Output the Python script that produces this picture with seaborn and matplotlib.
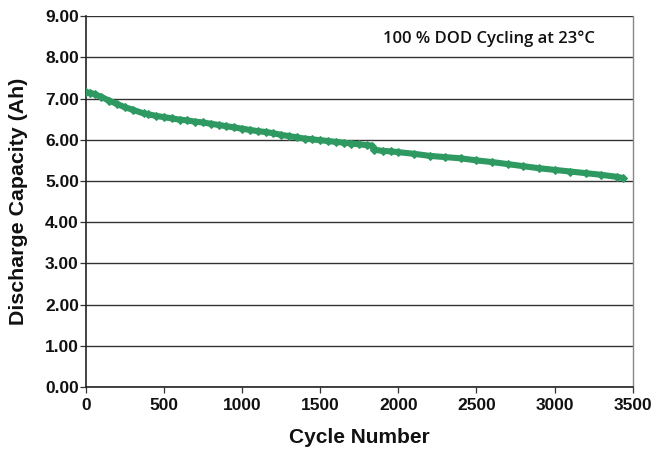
import matplotlib
matplotlib.use("Agg")
import matplotlib.pyplot as plt
import seaborn as sns
import pandas as pd

# Discharge capacity over cycle life
cycles = [0, 30, 60, 100, 150, 200, 250, 300, 370, 400, 450, 500, 550, 600,
          650, 700, 750, 800, 850, 900, 950, 1000, 1050, 1100, 1150, 1200,
          1250, 1300, 1350, 1400, 1450, 1500, 1550, 1600, 1650, 1700, 1750,
          1800, 1830, 1845, 1900, 1950, 2000, 2100, 2200, 2300, 2400, 2500,
          2600, 2700, 2800, 2900, 3000, 3100, 3200, 3300, 3400, 3440]
capacity = [7.15, 7.14, 7.10, 7.04, 6.95, 6.87, 6.79, 6.73, 6.64, 6.62, 6.58,
            6.55, 6.52, 6.49, 6.47, 6.44, 6.42, 6.39, 6.36, 6.33, 6.30, 6.27,
            6.24, 6.21, 6.19, 6.16, 6.12, 6.09, 6.06, 6.03, 6.01, 5.99, 5.97,
            5.95, 5.93, 5.91, 5.89, 5.87, 5.86, 5.76, 5.73, 5.72, 5.70, 5.66,
            5.61, 5.58, 5.55, 5.50, 5.46, 5.41, 5.36, 5.31, 5.27, 5.23, 5.19,
            5.15, 5.10, 5.07]
y_ticks = [0, 1, 2, 3, 4, 5, 6, 7, 8, 9]
x_ticks = [0, 500, 1000, 1500, 2000, 2500, 3000, 3500]
annotation = "100 % DOD Cycling at 23°C"

df = pd.DataFrame({"cycle": cycles, "capacity": capacity})

sns.set_style("white")
plt.rcParams["font.family"] = ["Liberation Sans", "DejaVu Sans"]

ink = "#111111"
fig = plt.figure(figsize=(6.55, 4.5), dpi=100)
ax = fig.add_axes([0.131, 0.14, 0.835, 0.824])

green = "#2e9a62"
sns.lineplot(data=df, x="cycle", y="capacity", ax=ax, color=green,
             linewidth=4.4, marker="D", markersize=4,
             markeredgecolor=green, markerfacecolor=green, zorder=3)

ax.set_xlim(0, 3500)
ax.set_ylim(0, 9)
ax.set_xticks(x_ticks)
ax.set_yticks(y_ticks)
ax.set_xticklabels([str(t) for t in x_ticks], fontsize=12.5,
                   fontweight="bold", color=ink)
ax.set_yticklabels([f"{t:.2f}" for t in y_ticks], fontsize=12.5,
                   fontweight="bold", color=ink)

ax.yaxis.grid(True, color="#333333", linewidth=1.0)
ax.xaxis.grid(False)
ax.set_axisbelow(True)

ax.tick_params(axis="y", which="major", direction="out", length=4,
               width=0.9, color="#333333", pad=1, left=True)
ax.tick_params(axis="x", which="major", direction="out", length=4,
               width=0.9, color="#333333", pad=4, bottom=True)

for side in ("left", "bottom"):
    ax.spines[side].set_color("#222222")
    ax.spines[side].set_linewidth(1.2)
ax.spines["right"].set_color("#888888")
ax.spines["right"].set_linewidth(1.0)
ax.spines["top"].set_visible(False)

ax.set_xlabel("Cycle Number", fontsize=15, fontweight="bold", labelpad=11,
              color=ink)
ax.set_ylabel("Discharge Capacity (Ah)", fontsize=15.4, fontweight="bold",
              labelpad=12, color=ink)

ax.text(0.738, 0.94, annotation, transform=ax.transAxes, ha="center",
        va="center", fontsize=12, fontweight="semibold",
        family=["Open Sans", "DejaVu Sans"], color=ink)

fig.savefig("out.png", dpi=100, facecolor="white")
